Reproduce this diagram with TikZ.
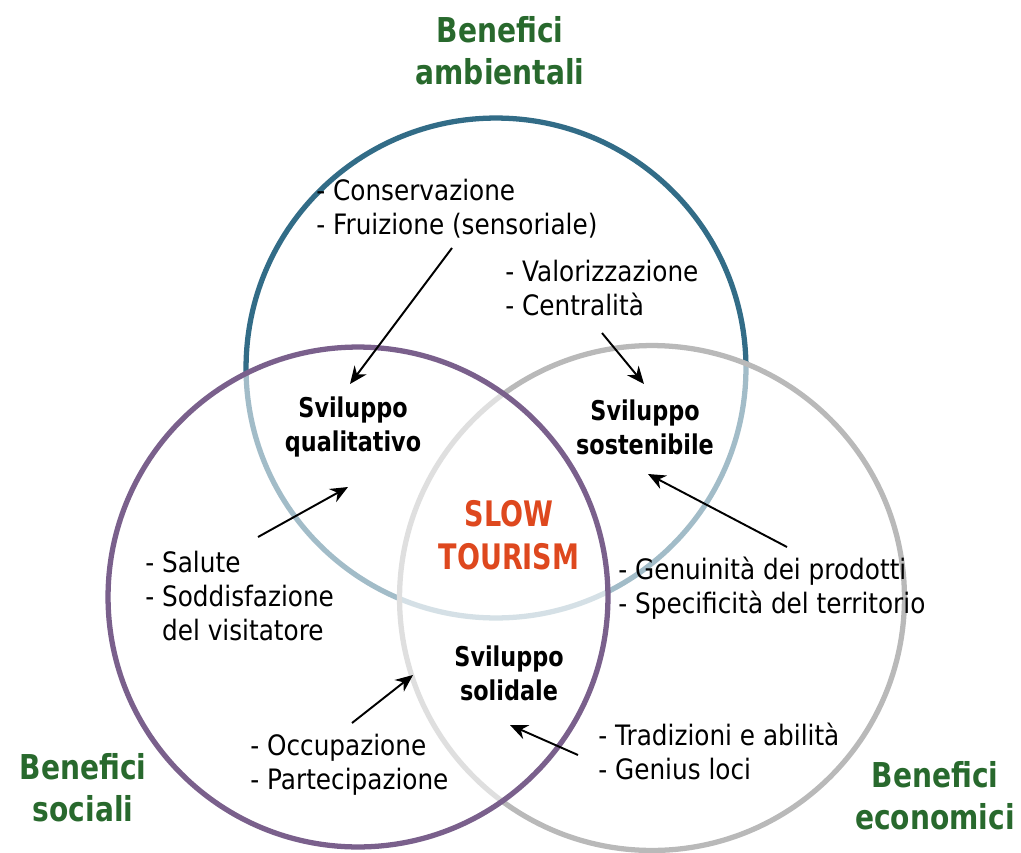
\documentclass[tikz,border=0pt]{standalone}
\usepackage{fontspec}
\setmainfont[FakeStretch=0.88]{DejaVu Sans}
\newfontfamily\devfont[FakeStretch=0.82]{DejaVu Sans}
\newfontfamily\slowfont[FakeStretch=0.77]{DejaVu Sans}
\usetikzlibrary{arrows.meta, positioning}

\definecolor{ambblue}{RGB}{50,108,135}
\definecolor{socpurple}{RGB}{122,96,140}
\definecolor{ecogrey}{RGB}{185,185,185}
\definecolor{benegreen}{RGB}{40,105,45}
\definecolor{slowred}{RGB}{222,72,30}

\begin{document}
\begin{tikzpicture}[
    x=0.02cm, y=-0.02cm,
    ring/.style={line width=3pt},
    fade/.style={fill=white, fill opacity=0.55},
    title/.style={text=benegreen, align=center, inner sep=0pt, font=\devfont\fontsize{19.5}{24}\selectfont\bfseries},
    list/.style={align=left, inner sep=0pt, anchor=west, font=\fontsize{16}{19.4}\selectfont},
    dev/.style={align=center, inner sep=0pt, font=\devfont\fontsize{15.5}{19.4}\selectfont\bfseries},
    arrow/.style={line width=1.1pt,->,>={Stealth[length=10pt,width=8.5pt]}}
]
\useasboundingbox (0,0) rectangle (1021,852);

% Circles
\draw[ring, draw=ambblue] (496,368) circle [radius=5cm];
\draw[ring, draw=ecogrey, fade] (652,598) circle [radius=5.05cm];
\draw[ring, draw=socpurple, fade] (358,597) circle [radius=5cm];

% Titles
\node[title] (amb) at (500,51) {Benefici\\ambientali};
\node[title] (soc) at (83,788) {Benefici\\sociali};
\node[title] (eco) at (935,796) {Benefici\\economici};

% Centre
\node[dev, text=slowred, font=\slowfont\fontsize{20}{24.5}\selectfont\bfseries] (slow) at (509,535) {SLOW\\TOURISM};
\node[dev] (qual) at (353,427) {Sviluppo\\qualitativo};
\node[dev] (sost) at (645,427) {Sviluppo\\sostenibile};
\node[dev] (solid) at (509,673) {Sviluppo\\solidale};

% Lists
\node[list] (consv) at (316,209) {- Conservazione\\- Fruizione (sensoriale)};
\node[list] (valor) at (505,288) {- Valorizzazione\\- Centralit\`a};
\node[list] (salute) at (145,596) {- Salute\\- Soddisfazione\\\hphantom{- }del visitatore};
\node[list] (genu) at (618,588) {- Genuinit\`a dei prodotti\\- Specificit\`a del territorio};
\node[list] (tradiz) at (598,751) {- Tradizioni e abilit\`a\\- Genius loci};
\node[list] (occup) at (250,765) {- Occupazione\\- Partecipazione};

% Arrow ends
\coordinate (consvA) at (452,248);
\coordinate (qualA) at (350,384);
\coordinate (valorA) at (602,333);
\coordinate (sostA) at (644,384);
\coordinate (saluteA) at (258,537);
\coordinate (qualB) at (348,487);
\coordinate (genuA) at (787,547);
\coordinate (sostB) at (648,474);
\coordinate (occupA) at (352,723);
\coordinate (solidA) at (413,675);
\coordinate (tradizA) at (578,755);
\coordinate (solidB) at (510,725);

% Connections
\draw[arrow] (consvA) -- (qualA);
\draw[arrow] (valorA) -- (sostA);
\draw[arrow] (saluteA) -- (qualB);
\draw[arrow] (genuA) -- (sostB);
\draw[arrow] (occupA) -- (solidA);
\draw[arrow] (tradizA) -- (solidB);

\end{tikzpicture}
\end{document}
